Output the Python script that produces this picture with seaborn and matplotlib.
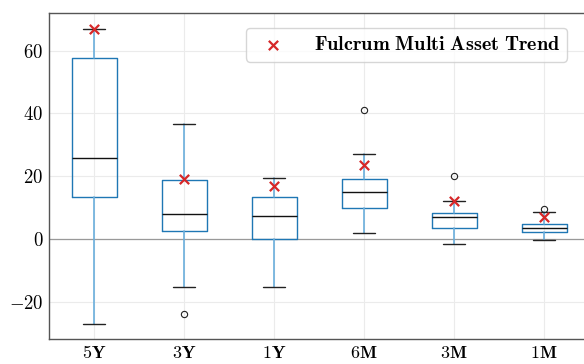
import matplotlib
matplotlib.use('Agg')
import matplotlib.pyplot as plt
import seaborn as sns
import pandas as pd

# box statistics
horizons = ['5Y', '3Y', '1Y', '6M', '3M', '1M']
whisker_low = [-27.2, -15.4, -15.3, 1.7, -1.6, -0.4]
q1 = [13.3, 2.5, -0.2, 9.8, 3.6, 2.1]
medians = [25.6, 8.0, 7.2, 15.0, 6.9, 3.6]
q3 = [57.6, 18.7, 13.4, 19.2, 8.2, 4.8]
whisker_high = [67.0, 36.6, 19.5, 27.0, 12.0, 8.7]
outliers = [[], [-23.9], [], [40.9], [19.9], [9.5]]

# Fulcrum Multi Asset Trend returns
fulcrum = [67.0, 18.9, 16.9, 23.5, 12.1, 7.0]

sns.set_style('whitegrid')
plt.rcParams['mathtext.fontset'] = 'cm'
plt.rcParams['font.family'] = ['DejaVu Serif']
plt.rcParams['text.color'] = 'black'
plt.rcParams['xtick.color'] = 'black'
plt.rcParams['ytick.color'] = 'black'

fig = plt.figure(figsize=(5.84, 3.64), dpi=100)
ax = fig.add_axes([0.084, 0.068, 0.925, 0.895])

stats = []
for i, h in enumerate(horizons):
    stats.append({'label': h, 'whislo': whisker_low[i], 'q1': q1[i], 'med': medians[i],
                  'q3': q3[i], 'whishi': whisker_high[i], 'fliers': outliers[i]})

ax.bxp(stats, positions=range(len(horizons)), widths=0.5, showfliers=True,
       boxprops=dict(color='#1f77b4', linewidth=1.0),
       whiskerprops=dict(color='#6aaedc', linewidth=1.2),
       capprops=dict(color='#222222', linewidth=1.0),
       medianprops=dict(color='#111111', linewidth=1.0),
       flierprops=dict(marker='o', markersize=4.5, markerfacecolor='none',
                       markeredgecolor='#222222', markeredgewidth=0.8))

df = pd.DataFrame({'pos': range(len(horizons)), 'ret': fulcrum})
sns.scatterplot(data=df, x='pos', y='ret', marker='x', color='#d62728', s=45,
                linewidth=1.6, ax=ax, zorder=5,
                label=r'$\mathbf{Fulcrum\ Multi\ Asset\ Trend}$')

ax.axhline(0, color='#999999', linewidth=0.9, zorder=1)
ax.set_xlim(-0.5, 5.5)
ax.set_ylim(-32, 71.8)
ax.set_xticks(range(len(horizons)))
ax.set_xticklabels([r'$\mathbf{%s}$' % h for h in horizons], fontsize=13)
ax.set_yticks([-20, 0, 20, 40, 60])
ax.set_yticklabels([r'$\mathbf{%d}$' % v for v in [-20, 0, 20, 40, 60]], fontsize=13.5)
ax.set_xlabel('')
ax.set_ylabel('')
ax.grid(True, color='#ebebeb', linewidth=0.8)
ax.tick_params(axis='x', length=3, color='#555555', pad=0.5, direction='out')
ax.tick_params(axis='y', length=0, pad=4)
for side in ['left', 'bottom', 'top']:
    ax.spines[side].set_color('#555555')
    ax.spines[side].set_linewidth(1.0)
ax.spines['right'].set_visible(False)

leg = ax.legend(loc='upper right', fontsize=14.5, frameon=True, fancybox=True,
                borderpad=0.35, handletextpad=1.0, bbox_to_anchor=(0.977, 0.985))
leg.get_frame().set_edgecolor('#cccccc')

plt.savefig('out.png', dpi=100)
plt.close()
